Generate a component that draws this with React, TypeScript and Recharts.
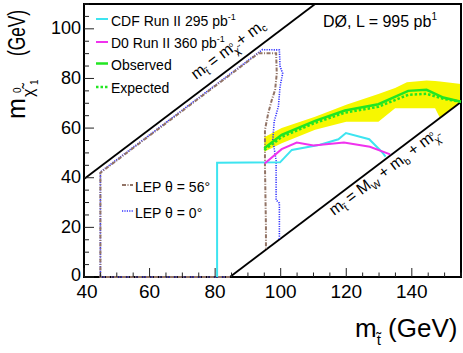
import { ComposedChart, Line, Area, XAxis, YAxis, ReferenceArea } from 'recharts';

// axis ticks
const xTicks = [40, 45, 50, 55, 60, 65, 70, 75, 80, 85, 90, 95, 100, 105, 110, 115, 120, 125, 130, 135, 140, 145, 150, 155];
const xMajorTicks = [40, 60, 80, 100, 120, 140];
const yTicks = [0, 5, 10, 15, 20, 25, 30, 35, 40, 45, 50, 55, 60, 65, 70, 75, 80, 85, 90, 95, 100, 105, 110];
const yMajorTicks = [0, 20, 40, 60, 80, 100];

// kinematic limits
const charmLimit = [
  { x: 40, y: 39.5 },
  { x: 110.5, y: 110 },
];
const wbLimit = [
  { x: 84.5, y: 0 },
  { x: 155, y: 70.5 },
];

// previous results
const cdfRun2 = [
  { x: 80.6, y: 0 },
  { x: 80.6, y: 46 },
  { x: 99.8, y: 46.2 },
  { x: 103.4, y: 51.2 },
  { x: 112, y: 53.3 },
  { x: 117.6, y: 55.5 },
  { x: 119.9, y: 58 },
  { x: 127, y: 55.5 },
  { x: 130.8, y: 50.5 },
  { x: 132, y: 48.5 },
];
const d0Run2 = [
  { x: 95.1, y: 45.7 },
  { x: 100.3, y: 51.5 },
  { x: 104.9, y: 54.2 },
  { x: 110, y: 53 },
  { x: 119.3, y: 54.2 },
  { x: 127.2, y: 52.5 },
  { x: 133.4, y: 49.4 },
];
const lep56 = [
  { x: 84.5, y: 0 },
  { x: 45, y: 0 },
  { x: 45, y: 42 },
  { x: 93.3, y: 90.2 },
  { x: 98.6, y: 90.2 },
  { x: 98.8, y: 82 },
  { x: 98.3, y: 75.4 },
  { x: 97.3, y: 71.4 },
  { x: 96.2, y: 66 },
  { x: 95.2, y: 59.3 },
  { x: 95.2, y: 45 },
  { x: 95.5, y: 20 },
  { x: 95.5, y: 11 },
];
const lep0 = [
  { x: 84.5, y: 0 },
  { x: 45, y: 0 },
  { x: 45, y: 42.3 },
  { x: 94.4, y: 91.6 },
  { x: 99.6, y: 91.5 },
  { x: 99.8, y: 85 },
  { x: 100.6, y: 82 },
  { x: 99.8, y: 76.7 },
  { x: 99.3, y: 68.7 },
  { x: 98, y: 62.6 },
  { x: 97.6, y: 55.2 },
  { x: 98.6, y: 47 },
  { x: 98.6, y: 31 },
  { x: 99.6, y: 29.8 },
  { x: 99.6, y: 15.1 },
];

// this analysis
const observed = [
  { x: 95, y: 51.9 },
  { x: 100.3, y: 57.3 },
  { x: 110.5, y: 62.9 },
  { x: 119.6, y: 67.1 },
  { x: 129.8, y: 69.6 },
  { x: 138.9, y: 75 },
  { x: 144.5, y: 75.4 },
  { x: 149.6, y: 72.3 },
  { x: 155, y: 70.6 },
];
const expected = [
  { x: 95, y: 51.2 },
  { x: 100.3, y: 56.4 },
  { x: 110.5, y: 62.1 },
  { x: 119.6, y: 66.2 },
  { x: 129.8, y: 68.6 },
  { x: 138.9, y: 73.4 },
  { x: 144.5, y: 73.8 },
  { x: 149.6, y: 71.8 },
  { x: 155, y: 70.6 },
];
const expectedBand = [
  { x: 95, range: [50.5, 56.3] },
  { x: 100.3, range: [53.9, 60] },
  { x: 110.5, range: [59.3, 64.6] },
  { x: 120, range: [62.6, 69.4] },
  { x: 129.8, range: [62.6, 73.7] },
  { x: 134.9, range: [68, 76.2] },
  { x: 138.5, range: [68, 78.5] },
  { x: 144.5, range: [68, 79.2] },
  { x: 147.1, range: [68, 79] },
  { x: 148.6, range: [64.1, 78.8] },
  { x: 155, range: [70.5, 77.8] },
];

const FONT = '"Liberation Sans", Arial, Helvetica, sans-serif';
const CYAN = '#3de4f0';
const MAGENTA = '#f032ee';
const GREEN = '#22e622';
const YELLOW = '#f7f700';
const BROWN = '#927466';
const BLUE = '#3434ff';

function XTick({ x, y, payload }: any) {
  const major = xMajorTicks.includes(payload.value);
  // the first label sits a little to the right, clear of the y-axis "0"
  const shift = payload.value === 40 ? 3 : 0;
  return (
    <g>
      <line x1={x} x2={x} y1={y} y2={y - (major ? 9 : 4.5)} stroke="#222" strokeWidth={1} />
      {major && (
        <text x={x + shift} y={y + 21} textAnchor="middle" fontSize={19} fontFamily={FONT} fill="#000">
          {payload.value}
        </text>
      )}
    </g>
  );
}

function YTick({ x, y, payload }: any) {
  const major = yMajorTicks.includes(payload.value);
  return (
    <g>
      <line x1={x} x2={x + (major ? 10 : 5)} y1={y} y2={y} stroke="#222" strokeWidth={1} />
      {major && (
        <text x={x - 3} y={y + (payload.value === 0 ? 4 : 5.5)} textAnchor="end" fontSize={18} fontFamily={FONT} fill="#000">
          {payload.value}
        </text>
      )}
    </g>
  );
}

function Overlay() {
  return (
    <svg
      width={463}
      height={353}
      style={{ position: 'absolute', left: 0, top: 0, pointerEvents: 'none' }}
      fontFamily={FONT}
      fill="#000"
    >
      {/* legend, top left */}
      <line x1={96} x2={108} y1={19} y2={19} stroke={CYAN} strokeWidth={2} />
      <text x={111} y={25.5} fontSize={14}>
        CDF Run II 295 pb<tspan fontSize={9} dy={-6}>-1</tspan>
      </text>
      <line x1={96} x2={108} y1={42} y2={42} stroke={MAGENTA} strokeWidth={2} />
      <text x={111} y={48} fontSize={14}>
        D0 Run II 360 pb<tspan fontSize={9} dy={-6}>-1</tspan>
      </text>
      <line x1={96} x2={108} y1={63.5} y2={63.5} stroke={GREEN} strokeWidth={2.5} />
      <text x={111} y={70} fontSize={14}>Observed</text>
      <line x1={96} x2={108} y1={87} y2={87} stroke={GREEN} strokeWidth={2.5} strokeDasharray="2.5 2" />
      <text x={111} y={93} fontSize={14}>Expected</text>

      {/* LEP legend */}
      <line x1={122} x2={133} y1={185} y2={185} stroke={BROWN} strokeWidth={2} strokeDasharray="4 1.5 1 1.5" />
      <text x={135} y={191.5} fontSize={14}>LEP θ = 56°</text>
      <line x1={122} x2={133} y1={211} y2={211} stroke={BLUE} strokeWidth={1.5} strokeDasharray="1.2 1.2" />
      <text x={135} y={217.5} fontSize={14}>LEP θ = 0°</text>

      {/* experiment label */}
      <text x={323} y={27} fontSize={16}>
        DØ, L = 995 pb<tspan fontSize={10} dy={-7}>1</tspan>
      </text>

      {/* kinematic limit labels */}
      <text transform="translate(196,80) rotate(-37)" fontSize={16}>
        m<tspan fontSize={10} dy={4}>t̃</tspan>
        <tspan dy={-4}> = m</tspan>
        <tspan fontSize={10} dy={5}>χ̃</tspan>
        <tspan fontSize={7} dx={-6} dy={-10}>o</tspan>
        <tspan fontSize={7} dx={-3} dy={10}>1</tspan>
        <tspan dy={-5}> + m</tspan>
        <tspan fontSize={10} dy={3}>c</tspan>
      </text>
      <text transform="translate(334,216) rotate(-37)" fontSize={16}>
        m<tspan fontSize={10} dy={4}>t̃</tspan>
        <tspan dy={-4}> = M</tspan>
        <tspan fontSize={10} dy={4}>W</tspan>
        <tspan dy={-4}> + m</tspan>
        <tspan fontSize={10} dy={4}>b</tspan>
        <tspan dy={-4}> + m</tspan>
        <tspan fontSize={10} dy={5}>χ̃</tspan>
        <tspan fontSize={7} dx={-6} dy={-10}>o</tspan>
      </text>

      {/* axis titles */}
      <text x={355} y={337} fontSize={26}>
        m<tspan fontSize={15} dy={8}>t̃</tspan>
        <tspan dy={-8}> (GeV)</tspan>
      </text>
      <g transform="translate(25,119) rotate(-90)">
        <text x={0} y={0} fontSize={25}>m</text>
        <text x={22} y={9} fontSize={16}>χ̃</text>
        <text x={26} y={-4} fontSize={10}>0</text>
        <text x={34} y={13} fontSize={10}>1</text>
        <text transform="translate(63,0) scale(0.72,1)" fontSize={24}>(GeV)</text>
      </g>
    </svg>
  );
}

export default function App() {
  return (
    <div style={{ position: 'absolute', left: 0, top: 0, width: 463, height: 353, background: '#fff' }}>
      <ComposedChart width={463} height={353} margin={{ top: 4, right: 2, bottom: 0, left: 0 }}>
        <XAxis
          type="number"
          dataKey="x"
          domain={[40, 155]}
          ticks={xTicks}
          interval={0}
          height={76}
          axisLine={false}
          tickLine={false}
          tickSize={0}
          tickMargin={0}
          tick={<XTick />}
        />
        <YAxis
          type="number"
          dataKey="y"
          domain={[0, 110]}
          ticks={yTicks}
          interval={0}
          width={84}
          axisLine={false}
          tickLine={false}
          tickSize={0}
          tickMargin={0}
          tick={<YTick />}
        />
        <Area
          data={expectedBand}
          dataKey="range"
          type="linear"
          stroke="none"
          fill={YELLOW}
          fillOpacity={1}
          isAnimationActive={false}
          dot={false}
          activeDot={false}
        />
        <Line data={charmLimit} dataKey="y" type="linear" stroke="#000" strokeWidth={1.8} dot={false} activeDot={false} isAnimationActive={false} />
        <Line data={wbLimit} dataKey="y" type="linear" stroke="#000" strokeWidth={1.8} dot={false} activeDot={false} isAnimationActive={false} />
        <Line data={lep0} dataKey="y" type="linear" stroke={BLUE} strokeWidth={1.6} strokeDasharray="1.2 1.2" dot={false} activeDot={false} isAnimationActive={false} />
        <Line data={lep56} dataKey="y" type="linear" stroke={BROWN} strokeWidth={2} strokeDasharray="4 1.5 1 1.5" dot={false} activeDot={false} isAnimationActive={false} />
        <Line data={cdfRun2} dataKey="y" type="linear" stroke={CYAN} strokeWidth={2} dot={false} activeDot={false} isAnimationActive={false} />
        <Line data={d0Run2} dataKey="y" type="linear" stroke={MAGENTA} strokeWidth={2} dot={false} activeDot={false} isAnimationActive={false} />
        <Line data={expected} dataKey="y" type="linear" stroke={GREEN} strokeWidth={2.5} strokeDasharray="2.5 2" dot={false} activeDot={false} isAnimationActive={false} />
        <Line data={observed} dataKey="y" type="linear" stroke={GREEN} strokeWidth={2.5} dot={false} activeDot={false} isAnimationActive={false} />
        <ReferenceArea x1={40} x2={155} y1={0} y2={110} fill="none" stroke="#000" strokeWidth={2} />
      </ComposedChart>
      <Overlay />
    </div>
  );
}
